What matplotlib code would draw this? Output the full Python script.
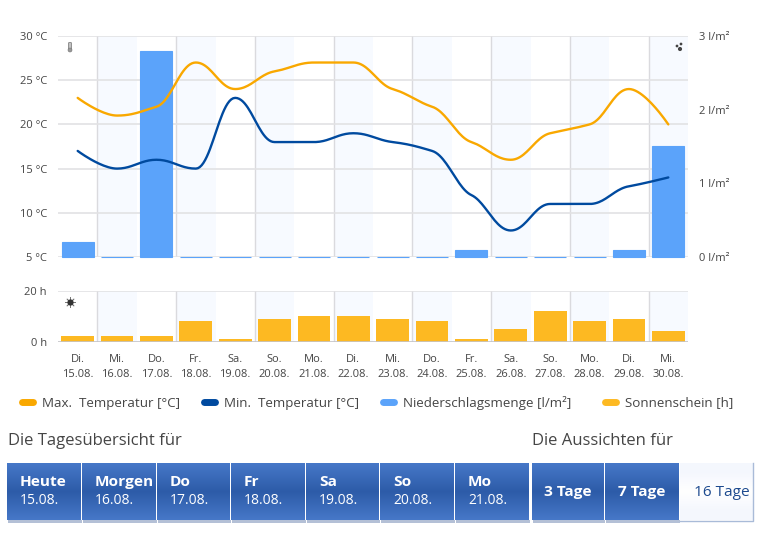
import numpy as np
import matplotlib
matplotlib.use("Agg")
import matplotlib.pyplot as plt
from matplotlib.lines import Line2D
from matplotlib.patches import Rectangle, FancyBboxPatch, Circle

plt.rcParams['font.family'] = ['Open Sans', 'DejaVu Sans']

weekdays = ["Di.", "Mi.", "Do.", "Fr.", "Sa.", "So.", "Mo.", "Di.", "Mi.", "Do.", "Fr.", "Sa.", "So.", "Mo.", "Di.", "Mi."]
dates = ["15.08.", "16.08.", "17.08.", "18.08.", "19.08.", "20.08.", "21.08.", "22.08.",
         "23.08.", "24.08.", "25.08.", "26.08.", "27.08.", "28.08.", "29.08.", "30.08."]
temp_max = [23, 21, 22, 27, 24, 26, 27, 27, 24, 22, 18, 16, 19, 20, 24, 20]
temp_min = [17, 15, 16, 15, 23, 18, 18, 19, 18, 17, 12, 8, 11, 11, 13, 14]
precip = [0.2, 0, 2.8, 0, 0, 0, 0, 0, 0, 0, 0.1, 0, 0, 0, 0.1, 1.5]
sun = [2, 2, 2, 8, 1, 9, 10, 10, 9, 8, 1, 5, 12, 8, 9, 4]
day_buttons = [("Heute", "15.08."), ("Morgen", "16.08."), ("Do", "17.08."), ("Fr", "18.08."),
               ("Sa", "19.08."), ("So", "20.08."), ("Mo", "21.08.")]
range_buttons = ["3 Tage", "7 Tage", "16 Tage"]

W, H = 772, 534
TXT = "#454545"
GRID = "#e2e2e4"
VLINE = "#dadade"
BAND = "#f7faff"
C_MAX, C_MIN, C_RAIN, C_SUN = "#f9a800", "#004a9f", "#5ba3fa", "#fdb922"


def px_axes(l, t, r, b):
    return fig.add_axes([l / W, 1 - b / H, (r - l) / W, (b - t) / H])


def spline(values, sx=39.4, sy=8.84, n=24, flatten=0.55):
    # Smooth curve through the day values: the tangent at each day is a flattened bisector of
    # its two neighbouring segments, and is level wherever the direction changes.
    y = np.array(values, dtype=float) * sy
    N = len(y)
    hl, hr = np.zeros(N), np.zeros(N)      # vertical handle offsets
    wl, wr = np.zeros(N), np.zeros(N)      # horizontal handle offsets
    for i in range(1, N - 1):
        d_l, d_r = y[i] - y[i - 1], y[i + 1] - y[i]
        if d_l * d_r <= 0:
            ang = 0.0
        else:
            ang = flatten * (np.arctan2(d_l, sx) + np.arctan2(d_r, sx)) / 2
        w, h = 0.4 * sx * np.cos(ang), 0.4 * sx * np.sin(ang)
        limit = min(abs(d_l), abs(d_r)) if d_l * d_r > 0 else 0.0
        if abs(h) > limit:
            h = np.sign(h) * limit
        wl[i], wr[i], hl[i], hr[i] = w, w, h, h
    t = np.linspace(0, 1, n)
    X, Y = [], []
    for i in range(N - 1):
        x0 = i * sx
        x1 = (i + 1) * sx
        px = np.array([x0, x0 + wr[i], x1 - wl[i + 1], x1])
        py = np.array([y[i], y[i] + hr[i], y[i + 1] - hl[i + 1], y[i + 1]])
        b = np.array([(1 - t) ** 3, 3 * (1 - t) ** 2 * t, 3 * (1 - t) * t ** 2, t ** 3])
        X.append(px @ b)
        Y.append(py @ b)
    return np.concatenate(X) / sx, np.concatenate(Y) / sy


fig = plt.figure(figsize=(W / 100, H / 100), dpi=100, facecolor="white")
days = np.arange(len(dates))

# Upper panel
axp = px_axes(58, 36, 688, 257)
ax = fig.add_axes(axp.get_position())
ax.set_zorder(axp.get_zorder() + 1)
ax.patch.set_visible(False)

for a in (axp, ax):
    a.set_xlim(-0.5, 15.5)
    for s in a.spines.values():
        s.set_visible(False)

axp.set_ylim(0, 3)
ax.set_ylim(5, 30)
for i in range(1, 16, 2):
    axp.axvspan(i - 0.5, i + 0.5, color=BAND, lw=0, zorder=0)
    axp.axvline(i - 0.5, color=VLINE, lw=1.0, zorder=1)
for v in np.arange(0, 3.01, 0.6):
    axp.axhline(v, color=GRID, lw=1.2, zorder=1)
bars = axp.bar(days, precip, width=0.81, color=C_RAIN, edgecolor=C_RAIN, lw=0.8, zorder=2,
               label="Niederschlagsmenge [l/m²]")
for b in bars:
    b.set_clip_on(False)

xs, ys = spline(temp_max)
ax.plot(xs, ys, color=C_MAX, lw=1.7, solid_capstyle="round", label="Max. Temperatur [°C]")
xs, ys = spline(temp_min)
ax.plot(xs, ys, color=C_MIN, lw=1.7, solid_capstyle="round", label="Min. Temperatur [°C]")

ax.set_xticks([])
ax.set_yticks([5, 10, 15, 20, 25, 30])
ax.set_yticklabels([f"{v} °C" for v in [5, 10, 15, 20, 25, 30]])
ax.tick_params(axis="y", length=0, pad=8, labelsize=8, labelcolor=TXT)
axp.set_xticks([])
axp.yaxis.tick_right()
axp.set_yticks([0, 1, 2, 3])
axp.set_yticklabels([f"{v} l/m²" for v in [0, 1, 2, 3]])
axp.tick_params(axis="y", length=0, pad=8, labelsize=8, labelcolor=TXT)

# Lower panel
axs = px_axes(58, 291, 688, 341.5)
axs.set_xlim(-0.5, 15.5)
axs.set_ylim(0, 20)
for s in axs.spines.values():
    s.set_visible(False)
for i in range(1, 16, 2):
    axs.axvspan(i - 0.5, i + 0.5, color=BAND, lw=0, zorder=0)
    axs.axvline(i - 0.5, color=VLINE, lw=1.0, zorder=1)
axs.axhline(20, color=GRID, lw=1.2, zorder=1)
axs.bar(days, sun, width=0.83, color=C_SUN, zorder=2, label="Sonnenschein [h]")
axs.axhline(0, color="#c4c4c8", lw=1.2, zorder=3)
axs.set_yticks([0, 20])
axs.set_yticklabels(["0 h", "20 h"])
axs.set_xticks(days)
axs.set_xticklabels([f"{w}\n{d}" for w, d in zip(weekdays, dates)], linespacing=1.55)
axs.tick_params(axis="y", length=0, pad=8, labelsize=8, labelcolor=TXT)
axs.tick_params(axis="x", length=0, pad=9, labelsize=8, labelcolor=TXT)

# Legend
handles = [Line2D([], [], color=c, lw=5.0, solid_capstyle="round") for c in (C_MAX, C_MIN, C_RAIN, C_SUN)]
labels = ["Max.  Temperatur [°C]", "Min.  Temperatur [°C]", "Niederschlagsmenge [l/m²]", "Sonnenschein [h]"]
leg_style = dict(loc="center left", frameon=False, fontsize=9.6, labelcolor=TXT, handlelength=0.85,
                 handletextpad=0.68, columnspacing=1.75, borderpad=0, borderaxespad=0)
fig.legend(handles[:3], labels[:3], ncol=3, bbox_to_anchor=(22 / W, 1 - 403 / H), **leg_style)
fig.legend(handles[3:], labels[3:], ncol=1, bbox_to_anchor=(605 / W, 1 - 403 / H), **leg_style)

# Overlay in pixel coordinates
ov = fig.add_axes([0, 0, 1, 1], zorder=10)
ov.set_xlim(0, W)
ov.set_ylim(H, 0)
ov.axis("off")
ov.patch.set_visible(False)

# Panel icons
ov.add_patch(FancyBboxPatch((69, 43), 2, 6.5, boxstyle="round,pad=0.4", fc="#c4c4c4", ec="#808080", lw=0.6))
ov.add_patch(Circle((70, 50), 2.0, fc="#999999", ec="#777777", lw=0.4))
ov.scatter([677, 681, 680], [46, 44, 49], s=[4, 4, 9], color="#444444", lw=0)
ov.scatter([70], [302], s=48, marker=(8, 2, 0), color="#777777", lw=0.6)
ov.scatter([70], [302], s=20, color="#333333", lw=0)

ov.text(8, 441, "Die Tagesübersicht für", fontsize=12, color=TXT, va="center")
ov.text(532, 441, "Die Aussichten für", fontsize=12, color=TXT, va="center")

grad = np.interp(np.linspace(0, 1, 60), [0, 0.5, 1], [0, 1, 0])
c1, c2 = np.array(matplotlib.colors.to_rgb("#4678c8")), np.array(matplotlib.colors.to_rgb("#2d5ba8"))
img = (c1[None, :] * (1 - grad[:, None]) + c2[None, :] * grad[:, None])[:, None, :]


def button(x0, x1, active=True):
    y0, y1 = 463, 520
    if active:
        ov.add_patch(Rectangle((x0 + 1, y1), x1 - x0, 3, fc="#b4c0d6", lw=0))
        ov.imshow(img, extent=(x0, x1, y1, y0), aspect="auto", interpolation="bilinear", zorder=2)
    else:
        ov.plot([x0, x1, x1], [y1 + 0.5, y1 + 0.5, y0], color="#a9bbd8", lw=1)
        pale = np.array([[[0.96, 0.97, 0.995]], [[1, 1, 1]], [[0.96, 0.97, 0.995]]])
        ov.imshow(pale, extent=(x0, x1, y1, y0), aspect="auto", interpolation="bilinear", zorder=1)


edges = [(7, 81), (82, 156), (157, 230), (231, 305), (306, 379), (380, 454), (455, 529)]
for (x0, x1), (name, date) in zip(edges, day_buttons):
    button(x0, x1)
    ov.text(x0 + 13, 482, name, color="white", fontsize=11.1, fontweight="bold", va="center", zorder=3)
    ov.text(x0 + 13, 500.5, date, color="white", fontsize=10, va="center", zorder=3)
for (x0, x1), label, active in zip([(532, 604), (605, 679), (680, 753)], range_buttons, [True, True, False]):
    button(x0, x1, active)
    ov.text((x0 + x1) / 2 + (0 if active else 5), 492, label, color="white" if active else "#1d4a8f",
            fontsize=11.1, fontweight="bold" if active else "normal", ha="center", va="center", zorder=3)
ov.set_xlim(0, W)
ov.set_ylim(H, 0)

fig.savefig("out.png", dpi=100)
